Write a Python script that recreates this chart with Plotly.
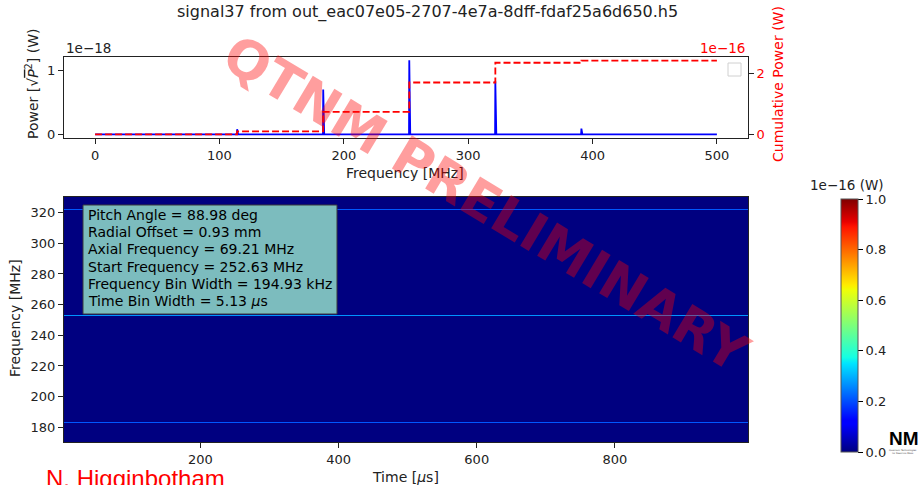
import numpy as np
import plotly.graph_objects as go

# ---------------- data ----------------
title_text = "signal37 from out_eac07e05-2707-4e7a-8dff-fdaf25a6d650.h5"

# power spectrum (units of 1e-18 W)
freq_bin_mhz = 0.19493
spec_max_mhz = 500.0
peak_freqs = [114.21, 183.42, 252.63, 321.84, 391.05]
peak_power = [0.08, 0.70, 1.155, 0.83, 0.09]

# cumulative power steps (units of 1e-16 W)
cum_step_freqs = [0.0, 114.21, 183.42, 252.63, 321.84, 391.05, 500.0]
cum_levels = [0.0, 0.10, 0.74, 1.71, 2.36, 2.43, 2.43]

# spectrogram (units of 1e-16 W)
time_bin_us = 5.13
n_time_bins = 193
time_start_us = 2.565
spec_freq_lo, spec_freq_hi = 170.4, 330.2
line_freqs = [183.42, 252.63, 321.84]
line_power = [0.21, 0.27, 0.21]
line_draw_width = 0.65  # MHz, rendered track thickness

info_lines = [
    "Pitch Angle = 88.98 deg",
    "Radial Offset = 0.93 mm",
    "Axial Frequency = 69.21 MHz",
    "Start Frequency = 252.63 MHz",
    "Frequency Bin Width = 194.93 kHz",
    "Time Bin Width = 5.13 <i>μ</i>s",
]

top_xticks = [0, 100, 200, 300, 400, 500]
bot_xticks = [200, 400, 600, 800]
bot_yticks = [180, 200, 220, 240, 260, 280, 300, 320]
cbar_ticks = [0.0, 0.2, 0.4, 0.6, 0.8, 1.0]

# ---------------- layout geometry ----------------
W, H = 921, 485
ML, MR, MT, MB = 64, 173, 57, 43
PW, PH = W - ML - MR, H - MT - MB


def px(x):
    return (x - ML) / PW


def py(y):
    return (H - MB - y) / PH


FONT = "DejaVu Sans"

# ---------------- derived arrays ----------------
spec_f = np.arange(0.0, spec_max_mhz + freq_bin_mhz / 2, freq_bin_mhz)
spec_p = np.zeros_like(spec_f)
for fr, pw in zip(peak_freqs, peak_power):
    spec_p[np.argmin(np.abs(spec_f - fr))] = pw

y_edges = [spec_freq_lo]
rows = [0.0]
for fr, pw in zip(line_freqs, line_power):
    y_edges += [fr - line_draw_width / 2, fr + line_draw_width / 2]
    rows += [pw, 0.0]
y_edges.append(spec_freq_hi)
z = np.tile(np.array(rows)[:, None], (1, n_time_bins))
x_edges = time_start_us + np.arange(n_time_bins + 1) * time_bin_us

# matplotlib-style jet colormap
jet = [
    [0.0, "rgb(0,0,128)"], [0.11, "rgb(0,0,255)"], [0.125, "rgb(0,0,255)"],
    [0.34, "rgb(0,219,255)"], [0.35, "rgb(0,229,255)"], [0.375, "rgb(21,255,226)"],
    [0.64, "rgb(238,255,8)"], [0.65, "rgb(247,246,0)"], [0.66, "rgb(255,236,0)"],
    [0.89, "rgb(255,19,0)"], [0.91, "rgb(232,0,0)"], [1.0, "rgb(128,0,0)"],
]

fig = go.Figure()

fig.add_trace(go.Scatter(
    x=spec_f, y=spec_p, mode="lines", line=dict(color="#0000ff", width=1.8),
    xaxis="x", yaxis="y", hoverinfo="skip", showlegend=False))
fig.add_trace(go.Scatter(
    x=cum_step_freqs, y=cum_levels, mode="lines", line_shape="hv",
    line=dict(color="#ff0000", width=1.8, dash="7px,3px"),
    xaxis="x", yaxis="y2", hoverinfo="skip", showlegend=False))

fig.add_trace(go.Heatmap(
    x=x_edges, y=y_edges, z=z, zmin=0, zmax=1, colorscale=jet,
    xaxis="x2", yaxis="y3", hoverinfo="skip",
    colorbar=dict(
        x=px(841), xanchor="left", xpad=0, ypad=0,
        y=py((199 + 452) / 2), yanchor="middle",
        thickness=17, thicknessmode="pixels", len=253, lenmode="pixels",
        outlinewidth=1, outlinecolor="#555",
        tickvals=cbar_ticks, ticktext=[f"{v:.1f}" for v in cbar_ticks],
        ticks="outside", ticklen=5, tickcolor="black",
        tickfont=dict(family=FONT, size=13, color="#222"),
    )))

axis_common = dict(showgrid=False, zeroline=False, showline=True, linecolor="#222",
                   linewidth=1, ticks="outside", ticklen=5, tickcolor="#222",
                   tickfont=dict(family=FONT, size=13, color="#222"), automargin=False)

top_lo, top_hi = py(138), py(57)
bot_lo, bot_hi = py(442), py(197)

fig.update_layout(
    width=W, height=H, margin=dict(l=ML, r=MR, t=MT, b=MB),
    paper_bgcolor="white", plot_bgcolor="white", showlegend=False,
    xaxis=dict(domain=[0, 1], anchor="y", range=[-25, 525], tickvals=top_xticks,
               mirror=True, **axis_common),
    yaxis=dict(domain=[top_lo, top_hi], anchor="x", range=[-0.0575, 1.2075],
               tickvals=[0, 1], mirror=True, **axis_common),
    yaxis2=dict(overlaying="y", side="right", anchor="x",
                range=[-0.12, 2.55], tickvals=[0, 2],
                **{**axis_common, "tickfont": dict(family=FONT, size=13, color="#ff0000")}),
    xaxis2=dict(domain=[0, 1], anchor="y3", range=[x_edges[0], x_edges[-1]],
                tickvals=bot_xticks, mirror=True, **axis_common),
    yaxis3=dict(domain=[bot_lo, bot_hi], anchor="x2", range=[spec_freq_lo, spec_freq_hi],
                tickvals=bot_yticks, mirror=True, **axis_common),
)

# empty legend frame in the spectrum panel
fig.add_shape(type="rect", xref="paper", yref="paper",
              x0=px(728), x1=px(741), y0=py(76), y1=py(63),
              line=dict(color="#d0d0d0", width=1), fillcolor="white")

# parameter box on the spectrogram
fig.add_shape(type="rect", xref="paper", yref="paper",
              x0=px(83), x1=px(337), y0=py(314), y1=py(205),
              line=dict(color="#3a3a3a", width=1), fillcolor="rgb(124,188,190)")

ann = []


def text(x, y, s, size=13, color="#222", xanchor="center", yanchor="middle",
         angle=0, family=FONT):
    ann.append(dict(x=px(x), y=py(y), xref="paper", yref="paper", text=s,
                    showarrow=False, xanchor=xanchor, yanchor=yanchor,
                    textangle=angle, font=dict(family=family, size=size, color=color)))


for i, line in enumerate(info_lines):
    text(86, 215 + 17.2 * i, line, size=14, color="black", xanchor="left")

text(427, 12, title_text, size=16)
text(64, 48, "1e−18", size=13.5, xanchor="left")
text(747, 48, "1e−16", size=13.5, color="#ff0000", xanchor="right")
text(405, 173, "Frequency [MHz]", size=14)
text(32, 84, "Power [√<span style='text-decoration:overline'><i>P</i></span><sup>2</sup>] (W)",
     size=14, angle=-90)
text(778, 84, "Cumulative Power (W)", size=14, color="#ff0000", angle=-90)
text(405, 477, "Time [<i>μ</i>s]", size=14)
text(15, 318, "Frequency [MHz]", size=14, angle=-90)
text(847, 185, "1e−16 (W)", size=13.5)

# author credit and logo
text(44, 479, "N. Higginbotham", size=24, color="#ff0000", xanchor="left",
     family="Liberation Sans")
text(921, 438, "<b>NM</b>", size=19, color="black", xanchor="right",
     family="Liberation Sans")
text(919, 452, "Quantum Technologies<br>for Neutrino Mass", size=2.4, color="#444",
     xanchor="right")

# watermark
text(486, 203, "<b>QTNM PRELIMINARY</b>", size=53, color="rgba(255,0,0,0.38)", angle=31)

fig.update_layout(annotations=ann)
fig.write_html("out.html")
